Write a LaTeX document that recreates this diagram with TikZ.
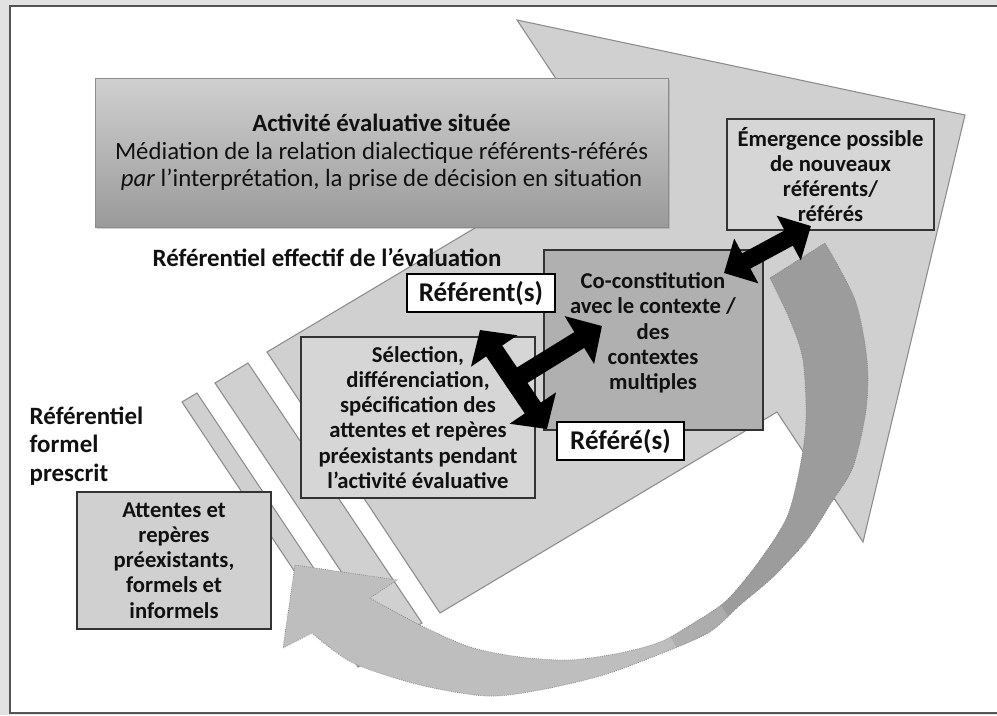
\documentclass[tikz,border=0pt]{standalone}
\usepackage{fontspec}
\setmainfont{Carlito}
\usetikzlibrary{arrows.meta,shadows}
\definecolor{marginGray}{HTML}{E2E2E2}
\definecolor{frameLine}{HTML}{555555}
\definecolor{arrowFill}{HTML}{D0D0D0}
\definecolor{arrowEdge}{HTML}{8C8C8C}
\definecolor{boxLight}{HTML}{D6D6D6}
\definecolor{boxMid}{HTML}{B0B0B0}
\definecolor{boxEdge}{HTML}{333333}
\definecolor{curveLight}{HTML}{BEBEBE}
\definecolor{curveDark}{HTML}{9C9C9C}
\definecolor{curveEdge}{HTML}{8A8A8A}
\definecolor{topShadeA}{HTML}{D0D0D0}
\definecolor{topShadeB}{HTML}{9A9A9A}
\definecolor{inkText}{HTML}{111111}

\begin{document}
\begin{tikzpicture}[x=0.75pt,y=-0.75pt,
  boxtxt/.style={font=\fontsize{17}{18.9}\selectfont\bfseries, align=center, text=inkText},
  headtxt/.style={font=\fontsize{18.7}{21.4}\selectfont\bfseries, text=inkText},
  plainbox/.style={draw=boxEdge, line width=0.9pt, inner sep=0pt, boxtxt},
  tagbox/.style={draw=black, fill=white, line width=2.2pt, inner sep=0pt,
                 font=\fontsize{20.3}{22}\selectfont\bfseries, text=inkText},
  bandshape/.style={fill=arrowFill, draw=arrowEdge, line width=0.8pt, line join=miter},
  blkshaft/.style={draw=black, line width=#1},
]
\useasboundingbox (0,0) rectangle (997,715);

% page frame
\fill[marginGray] (0,0) rectangle (997,715);
\fill[white] (10,6) rectangle (997,713);
\draw[frameLine, line width=1.4pt] (997,6) -- (10,6) -- (10,713) -- (997,713);

% tail stripes behind the large arrow
\filldraw[bandshape] (215,383) -- (248,363) -- (422,623) -- (389,643) -- cycle;
\filldraw[bandshape] (182,402) -- (197,393) -- (373,657) -- (358,667) -- cycle;

% large arrow
\filldraw[bandshape] (267,352) -- (604,151) -- (517,20) -- (965,115)
  -- (863,542) -- (777,412) -- (440,613) -- cycle;

% curved return arrow
\begin{scope}
  \clip (770,278) -- (825,243) -- plot[smooth] coordinates {(825,243) (855,300) (867,360) (866,410) (853,467) (833,500) (807,540) (773,577) (740,605) (708,633) (650,658) (600,676) (540,690) (487,696) (420,685) (353,663) (312,633)}
    -- (283,648) -- (295,565) -- (397,580) -- (370,598)
    -- plot[smooth] coordinates {(370,598) (420,625) (470,647) (520,657) (570,660) (620,653) (660,642) (692,624) (727,600) (760,560) (787,517) (800,467) (806,420) (803,360) (790,320) (770,278)} -- cycle;
  \fill[curveLight] (250,200) rectangle (900,720);
  \begin{scope}[shift={(700,628)}, rotate=32]
    \shade[left color=curveLight, right color=curveDark] (-30,-500) rectangle (30,500);
    \fill[curveDark] (30,-500) rectangle (600,500);
  \end{scope}
\end{scope}
\draw[curveEdge, densely dotted, line width=0.6pt] (770,278) -- (825,243) -- plot[smooth] coordinates {(825,243) (855,300) (867,360) (866,410) (853,467) (833,500) (807,540) (773,577) (740,605) (708,633) (650,658) (600,676) (540,690) (487,696) (420,685) (353,663) (312,633)}
    -- (283,648) -- (295,565) -- (397,580) -- (370,598)
    -- plot[smooth] coordinates {(370,598) (420,625) (470,647) (520,657) (570,660) (620,653) (660,642) (692,624) (727,600) (760,560) (787,517) (800,467) (806,420) (803,360) (790,320) (770,278)} -- cycle;

% situated evaluative activity
\node[draw=arrowEdge, line width=0.6pt, top color=topShadeA, bottom color=topShadeB,
      drop shadow={shadow xshift=1.5pt, shadow yshift=-1.5pt, opacity=0.35},
      minimum width=429.75pt, minimum height=111.75pt, inner sep=0pt,
      align=center, text=inkText, font=\fontsize{18.6}{20.6}\selectfont]
  (activite) at (381.5,152.5)
  {\textbf{Activité évaluative située}\\
   Médiation de la relation dialectique référents-référés\\
   \textit{par} l’interprétation, la prise de décision en situation};

% headings
\node[headtxt, anchor=center] (effectif) at (327,258) {Référentiel effectif de l’évaluation};
\node[headtxt, anchor=west, align=left] (formel) at (25,446)
  {Référentiel\\formel\\prescrit};

% boxes
\node[plainbox, fill=boxLight, minimum width=155.25pt, minimum height=83.25pt] (emergence) at (830.5,174.5)
  {Émergence possible\\de nouveaux\\référents/\\référés};
\node[plainbox, fill=boxMid, minimum width=164.25pt, minimum height=135pt] (cocons) at (653.5,340) {};
\node[boxtxt] (coconsText) at (653,333)
  {Co-constitution\\avec le contexte /\\des\\contextes\\multiples};
\node[plainbox, fill=boxLight, minimum width=175.5pt, minimum height=120.75pt] (selection) at (418,417.5)
  {Sélection,\\différenciation,\\spécification des\\attentes et repères\\préexistants pendant\\l’activité évaluative};
\node[plainbox, fill=arrowFill, minimum width=145.5pt, minimum height=102.75pt] (attentes) at (174,560.5)
  {Attentes et\\repères\\préexistants,\\formels et\\informels};
\node[tagbox, minimum width=111pt, minimum height=28.5pt] (referent) at (481,293) {Référent(s)};
\node[tagbox, minimum width=95.25pt, minimum height=28.5pt] (refere) at (620.5,441) {Référé(s)};

% black connectors
\coordinate (coconsEnd) at (724,273);
\coordinate (emergEnd) at (811,226);
\coordinate (referentEnd) at (480,330);
\coordinate (refereEnd) at (547,429);
\coordinate (crossMid) at (508,384);
\coordinate (coconsIn) at (602,326);
\draw[blkshaft=13pt, {Triangle[length=19pt,width=37pt]}-{Triangle[length=19pt,width=37pt]}] (coconsEnd) -- (emergEnd);
\draw[blkshaft=14.5pt, {Triangle[length=19pt,width=41pt]}-{Triangle[length=19pt,width=41pt]}] (referentEnd) -- (refereEnd);
\draw[blkshaft=14pt, -{Triangle[length=20pt,width=41pt]}] (crossMid) -- (coconsIn);
\end{tikzpicture}
\end{document}
